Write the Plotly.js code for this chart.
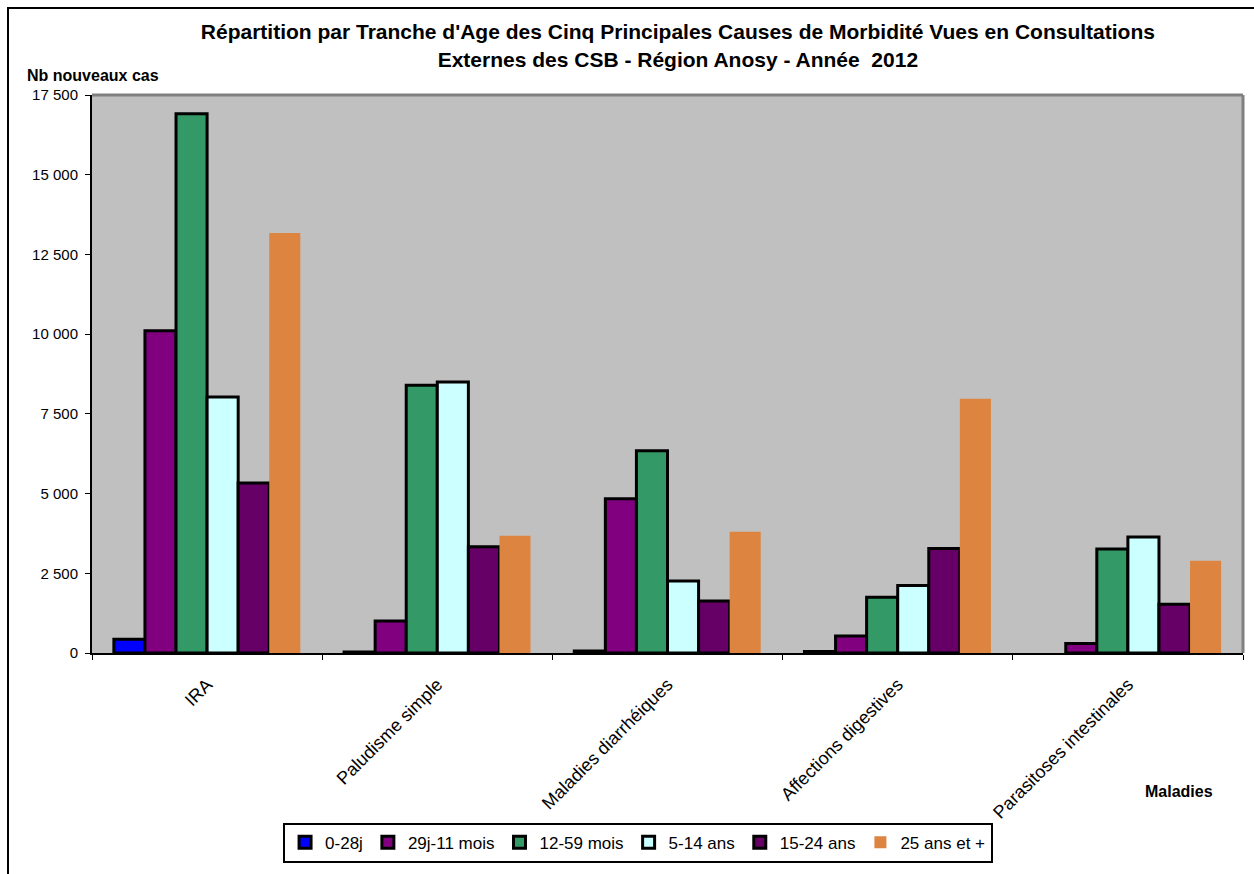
<!DOCTYPE html>
<html>
<head>
<meta charset="utf-8">
<script src="https://cdn.plot.ly/plotly-3.0.1.min.js"></script>
<style>
  html, body { margin: 0; padding: 0; background: #fff; }
  #wrap { position: relative; width: 1254px; height: 874px; }
  #chart { width: 1254px; height: 874px; }
  #frame { position: absolute; left: 7px; top: 7px; width: 1247px; height: 867px;
           border-left: 2px solid #000; border-top: 2px solid #000;
           pointer-events: none; box-sizing: border-box; }
</style>
</head>
<body>
<div id="wrap">
  <div id="chart"></div>
  <div id="frame"></div>
</div>
<script>
const categories = ["IRA", "Paludisme simple", "Maladies diarrhéiques", "Affections digestives", "Parasitoses intestinales"];
const seriesNames = ["0-28j", "29j-11 mois", "12-59 mois", "5-14 ans", "15-24 ans", "25 ans et +"];
const v0_28j   = [430, 30, 60, 50, null];
const v29j_11m = [10110, 1000, 4840, 530, 300];
const v12_59m  = [16910, 8400, 6345, 1745, 3260];
const v5_14    = [8030, 8500, 2255, 2120, 3635];
const v15_24   = [5330, 3330, 1630, 3280, 1530];
const v25plus  = [13170, 3675, 3800, 7970, 2895];
const yTickVals = [0, 2500, 5000, 7500, 10000, 12500, 15000, 17500];

const seriesValues = [v0_28j, v29j_11m, v12_59m, v5_14, v15_24, v25plus];
const colors = ["#0000FF", "#800080", "#339966", "#CCFFFF", "#660066", "#DD8540"];
const lineWidths = [3, 3, 3, 3, 3, 0];

const font = "Arial, 'Liberation Sans', sans-serif";

const traces = seriesNames.map((name, i) => ({
  type: "bar",
  name: name,
  x: categories,
  y: seriesValues[i],
  marker: { color: colors[i], line: { color: "#000", width: lineWidths[i] } },
  hoverinfo: "x+y+name"
}));

const layout = {
  width: 1254, height: 874,
  margin: { l: 92, r: 11, t: 95, b: 217 },
  paper_bgcolor: "#fff",
  plot_bgcolor: "#C0C0C0",
  separators: ", ",
  font: { family: font, color: "#000", size: 14 },
  title: {
    text: "<b>Répartition par Tranche d'Age des Cinq Principales Causes de Morbidité Vues en Consultations<br>Externes des CSB - Région Anosy - Année  2012</b>",
    font: { family: font, size: 21, color: "#000" },
    x: 0.509, xref: "paper", xanchor: "center",
    y: 0.955, yref: "container", yanchor: "middle"
  },
  barmode: "group",
  bargap: 0.19,
  bargroupgap: 0,
  xaxis: {
    type: "category",
    tickangle: -45,
    tickson: "boundaries",
    ticks: "outside", ticklen: 5, tickwidth: 1, tickcolor: "#000",
    showline: true, linecolor: "#000", linewidth: 2,
    showgrid: false, zeroline: false,
    tickfont: { family: font, size: 18, color: "#000" },
    ticklabelstandoff: 12
  },
  yaxis: {
    range: [0, 17500],
    tickvals: yTickVals,
    tickformat: ",d",
    ticks: "outside", ticklen: 5, tickwidth: 1, tickcolor: "#000",
    showline: true, linecolor: "#000", linewidth: 2,
    showgrid: false, zeroline: false,
    tickfont: { family: font, size: 15, color: "#000" },
    ticklabelstandoff: 4
  },
  showlegend: true,
  legend: {
    orientation: "h",
    x: 0.166, xanchor: "left", xref: "paper",
    y: -0.304, yanchor: "top", yref: "paper",
    bgcolor: "#fff", bordercolor: "#000", borderwidth: 2,
    font: { family: font, size: 17, color: "#000" },
    traceorder: "normal",
    itemwidth: 30,
    tracegroupgap: 0
  },
  shapes: [
    { type: "line", xref: "paper", yref: "paper", x0: 0, x1: 1, y0: 1, y1: 1,
      line: { color: "#808080", width: 3 }, layer: "above" },
    { type: "line", xref: "paper", yref: "paper", x0: 1, x1: 1, y0: 0, y1: 1,
      line: { color: "#808080", width: 3 }, layer: "above" }
  ],
  annotations: [
    { text: "<b>Nb nouveaux cas</b>", xref: "paper", yref: "paper",
      x: -0.058, y: 1.035, xanchor: "left", yanchor: "middle", showarrow: false,
      font: { family: font, size: 16, color: "#000" } },
    { text: "<b>Maladies</b>", xref: "paper", yref: "paper",
      x: 0.913, y: -0.249, xanchor: "left", yanchor: "middle", showarrow: false,
      font: { family: font, size: 16, color: "#000" } }
  ]
};

Plotly.newPlot("chart", traces, layout, { displayModeBar: false });
</script>
</body>
</html>
